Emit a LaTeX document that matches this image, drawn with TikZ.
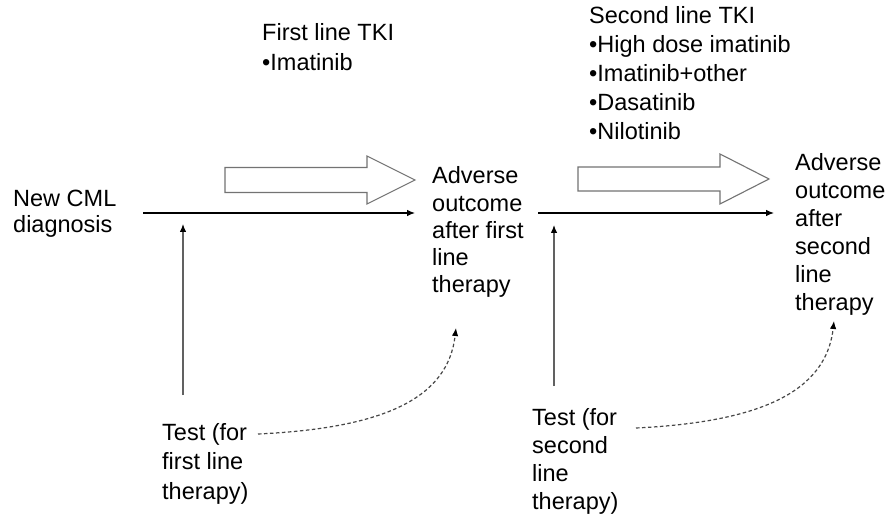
\documentclass[tikz,border=0pt]{standalone}
\usepackage{fontspec}
\setmainfont{Liberation Sans}
\usetikzlibrary{arrows.meta}
\begin{document}
\begin{tikzpicture}[x=1pt,y=-1pt,
  lbl/.style={anchor=base west,inner sep=0pt,align=left},
  fs/.style={font=\fontsize{23.5}{#1}\selectfont},
  flow/.style={line width=1.1pt,-{Latex[length=8pt,width=6.5pt]}},
  testarrow/.style={line width=1.2pt,draw=black!62,-{Latex[length=8pt,width=6.5pt,color=black]}},
  dasharrow/.style={line width=1.2pt,draw=black!72,dash pattern=on 3.5pt off 2.5pt,-{Latex[length=8pt,width=6.5pt,color=black]}},
  blockarrow/.style={draw=black!55,line width=1.1pt,fill=white,line join=miter}]
\useasboundingbox[fill=white] (0,0) rectangle (891,518);

% text nodes (anchored at the baseline of their last line)
\node[lbl,fs=30] (tki1) at (262,71) {First line TKI\\\textbullet Imatinib};
\node[lbl,fs=29] (tki2) at (589,140) {Second line TKI\\\textbullet High dose imatinib\\\textbullet Imatinib+other\\\textbullet Dasatinib\\\textbullet Nilotinib};
\node[lbl,fs=26] (new) at (13,233) {New CML\\diagnosis};
\node[lbl,fs=27.3] (adv1) at (432,293) {Adverse\\outcome\\after first\\line\\therapy};
\node[lbl,fs=28] (adv2) at (795,311) {Adverse\\outcome\\after\\second\\line\\therapy};
\node[lbl,fs=29.5] (test1) at (162,499) {Test (for\\first line\\therapy)};
\node[lbl,fs=28] (test2) at (532,509) {Test (for\\second\\line\\therapy)};

% connector end points
\coordinate (h1s) at (143,213);
\coordinate (h1e) at (415,213);
\coordinate (h2s) at (538,213);
\coordinate (h2e) at (774,213);
\coordinate (v1s) at (183,395);
\coordinate (v1e) at (183,224);
\coordinate (v2s) at (554,386);
\coordinate (v2e) at (554,225);
\coordinate (d1s) at (258,434);
\coordinate (d1e) at (456,328);
\coordinate (d2s) at (636,428);
\coordinate (d2e) at (834,321);

% block arrows
\draw[blockarrow] (225,167.5) -- (367,167.5) -- (367,156) -- (415,180) -- (367,204) -- (367,192.5) -- (225,192.5) -- cycle;
\draw[blockarrow] (578,167) -- (720,167) -- (720,154) -- (769,179) -- (720,204) -- (720,191) -- (578,191) -- cycle;

% flow arrows
\draw[flow] (h1s) -- (h1e);
\draw[flow] (h2s) -- (h2e);
\draw[testarrow] (v1s) -- (v1e);
\draw[testarrow] (v2s) -- (v2e);

% dashed curves
\draw[dasharrow] (d1s) .. controls (385,428) and (448,398) .. (d1e);
\draw[dasharrow] (d2s) .. controls (760,422) and (826,392) .. (d2e);
\end{tikzpicture}
\end{document}
